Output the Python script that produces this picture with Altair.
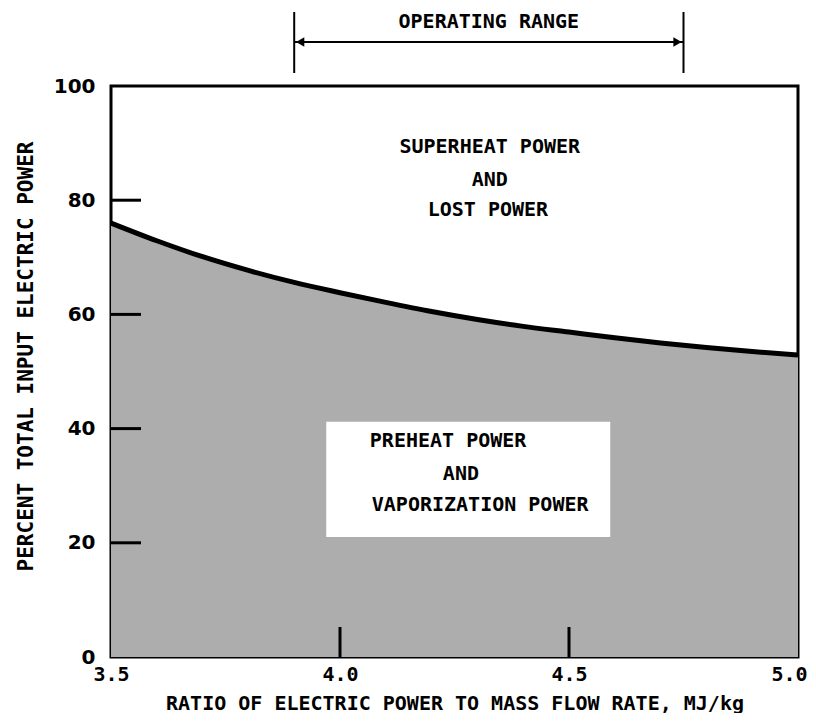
import altair as alt
import pandas as pd

# Curve: percent of input power going to preheat + vaporization
ratio = [3.5, 3.6, 3.7, 3.8, 3.9, 4.0, 4.1, 4.2, 4.3, 4.4, 4.5, 4.6, 4.7, 4.8, 4.9, 5.0]
percent = [76.0, 72.9, 70.1, 67.7, 65.6, 63.8, 62.1, 60.5, 59.1, 57.9, 56.9, 55.9, 55.0, 54.2, 53.5, 52.9]

# Operating range (x values)
op_lo = [3.9]
op_hi = [4.75]

# Interior tick values
y_ticks = [20, 40, 60, 80]
x_ticks = [4.0, 4.5]

# White label box bounds (data units)
box_x = [3.97]
box_x2 = [4.59]
box_y = [21.0]
box_y2 = [41.2]

# Region labels
upper_text = ["SUPERHEAT POWER", "AND", "LOST POWER"]
upper_x = [4.327, 4.327, 4.323]
upper_y = [89.3, 83.5, 78.3]
lower_text = ["PREHEAT POWER", "AND", "VAPORIZATION POWER"]
lower_x = [4.236, 4.264, 4.306]
lower_y = [37.8, 32.0, 26.6]

MONO = "DejaVu Sans Mono"
W = "bold"

curve = pd.DataFrame({"x": ratio, "y": percent})

xs = alt.Scale(domain=[3.5, 5.0], nice=False, zero=False)
ys = alt.Scale(domain=[0, 100], nice=False)

xax = alt.Axis(values=[3.5, 4.0, 4.5, 5.0], format=".1f", labelFont=MONO, labelFontSize=20,
               labelFontWeight=W, labelColor="black", labelPadding=7, labelFlush=False,
               labelAlign={"condition": {"test": "datum.value >= 5", "value": "right"}, "value": "center"},
               labelOffset={"condition": {"test": "datum.value >= 5", "value": 9}, "value": 0},
               title="RATIO OF ELECTRIC POWER TO MASS FLOW RATE, MJ/kg",
               titleFont=MONO, titleFontSize=20, titleFontWeight=W, titleColor="black",
               titleY=52, titleBaseline="alphabetic")
yax = alt.Axis(values=[0, 20, 40, 60, 80, 100], labelFont="DejaVu Sans", labelFontSize=20,
               labelFontWeight="bold", labelColor="black", labelPadding=16, labelFlush=False,
               title="PERCENT TOTAL INPUT ELECTRIC POWER",
               titleFont=MONO, titleFontSize=21, titleFontWeight=W, titleColor="black",
               titleX=-85, titleY=270, titleAlign="center", titleBaseline="middle", titleAngle=-90)

area = alt.Chart(curve).mark_area(color="#adadad", opacity=1, interpolate="monotone").encode(
    x=alt.X("x:Q", scale=xs, axis=xax),
    y=alt.Y("y:Q", scale=ys, axis=yax),
)
line = alt.Chart(curve).mark_line(color="black", strokeWidth=5, interpolate="monotone").encode(
    x=alt.X("x:Q", scale=xs), y=alt.Y("y:Q", scale=ys)
)

box = alt.Chart(pd.DataFrame({"x": box_x, "x2": box_x2, "y": box_y, "y2": box_y2})).mark_rect(
    color="white", opacity=1
).encode(x=alt.X("x:Q", scale=xs), x2="x2:Q", y=alt.Y("y:Q", scale=ys), y2="y2:Q")

ytick = alt.Chart(pd.DataFrame({"v": y_ticks})).mark_rule(color="black", strokeWidth=3).encode(
    y=alt.Y("v:Q", scale=ys), x=alt.value(0), x2=alt.value(30)
)
xtick = alt.Chart(pd.DataFrame({"v": x_ticks})).mark_rule(color="black", strokeWidth=3).encode(
    x=alt.X("v:Q", scale=xs), y=alt.value(571), y2=alt.value(541)
)

txt_up = alt.Chart(pd.DataFrame({"t": upper_text, "x": upper_x, "y": upper_y})).mark_text(
    font=MONO, fontSize=20, fontWeight=W, color="black", align="center", baseline="middle"
).encode(x=alt.X("x:Q", scale=xs), y=alt.Y("y:Q", scale=ys), text="t:N")
txt_lo = alt.Chart(pd.DataFrame({"t": lower_text, "x": lower_x, "y": lower_y})).mark_text(
    font=MONO, fontSize=20, fontWeight=W, color="black", align="center", baseline="middle"
).encode(x=alt.X("x:Q", scale=xs), y=alt.Y("y:Q", scale=ys), text="t:N")

opdf = pd.DataFrame({"lo": op_lo, "hi": op_hi, "mid": [(op_lo[0] + op_hi[0]) / 2],
                     "label": ["OPERATING RANGE"]})
op_bars = alt.Chart(pd.DataFrame({"v": op_lo + op_hi})).mark_rule(
    color="black", strokeWidth=2, clip=False
).encode(x=alt.X("v:Q", scale=xs), y=alt.value(-74), y2=alt.value(-13))
op_arrow = alt.Chart(opdf).mark_rule(color="black", strokeWidth=2, clip=False).encode(
    x=alt.X("lo:Q", scale=xs), x2="hi:Q", y=alt.value(-44)
)
head_l = alt.Chart(opdf).mark_point(shape="triangle-left", filled=True, color="black",
                                    size=90, opacity=1, xOffset=6, clip=False).encode(
    x=alt.X("lo:Q", scale=xs), y=alt.value(-44)
)
head_r = alt.Chart(opdf).mark_point(shape="triangle-right", filled=True, color="black",
                                    size=90, opacity=1, xOffset=-6, clip=False).encode(
    x=alt.X("hi:Q", scale=xs), y=alt.value(-44)
)
op_text = alt.Chart(opdf).mark_text(font=MONO, fontSize=20, fontWeight=W, color="black",
                                    baseline="middle", clip=False).encode(
    x=alt.X("mid:Q", scale=xs), y=alt.value(-64), text="label:N"
)

chart = alt.layer(
    area, line, box, ytick, xtick, txt_up, txt_lo, op_bars, op_arrow, head_l, head_r, op_text
).properties(
    width=687, height=571,
    autosize=alt.AutoSizeParams(type="none"),
    padding={"left": 103, "top": 78, "right": 10, "bottom": 56},
    background="white",
).configure_view(
    stroke="black", strokeWidth=3
).configure_axis(
    domain=False, ticks=False, grid=False
)

chart.save("out.html", embed_options={"renderer": "svg", "actions": False})
